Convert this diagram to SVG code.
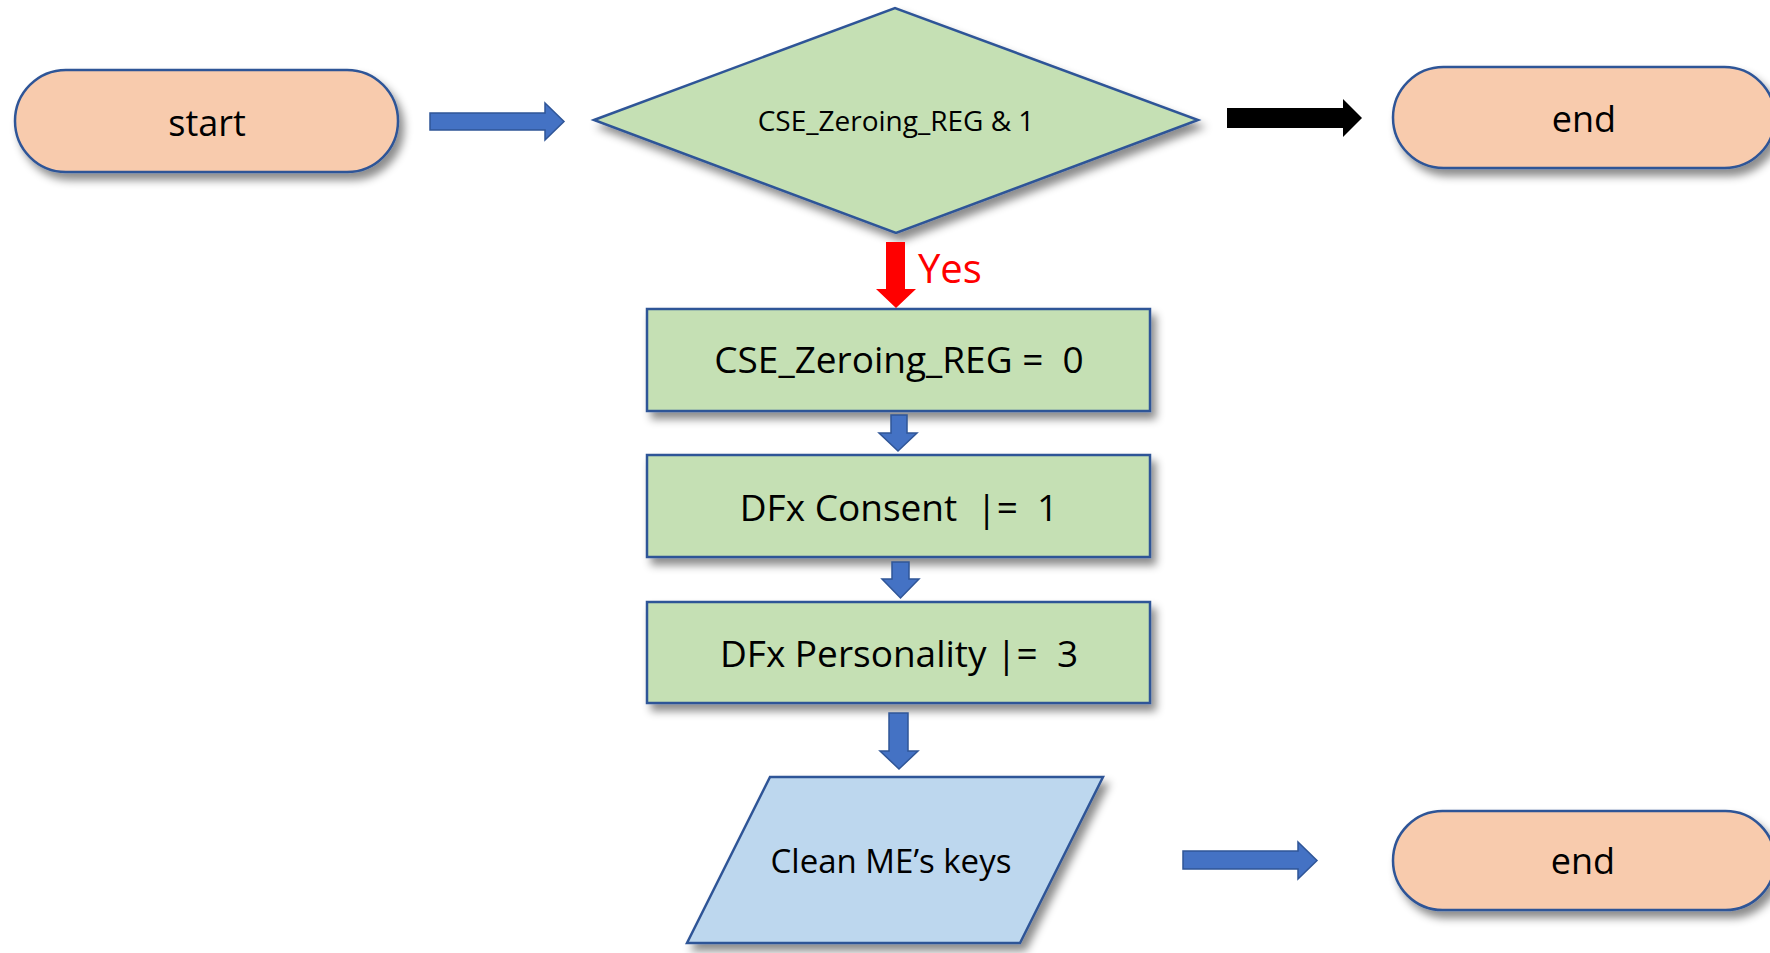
<svg xmlns="http://www.w3.org/2000/svg" width="1770" height="953" viewBox="0 0 1770 953">
<defs>
<filter id="sh" x="-10%" y="-10%" width="130%" height="140%">
<feDropShadow dx="5" dy="7" stdDeviation="4" flood-color="#000" flood-opacity="0.45"/>
</filter>
<style>
.term{fill:#F8CBAD;stroke:#2F5597;stroke-width:2.5;filter:url(#sh)}
.proc{fill:#C5E0B4;stroke:#2F5597;stroke-width:2.5;filter:url(#sh)}
.io{fill:#BDD7EE;stroke:#2F5597;stroke-width:2.5;filter:url(#sh)}
.txt{font-family:"Open Sans","Liberation Sans",sans-serif;fill:#000;text-anchor:middle;white-space:pre}
.barrow{fill:#4472C4;stroke:#2F5597;stroke-width:1.5}
.karrow{fill:#000}
.rarrow{fill:#FF0000}
</style>
</defs>
<rect width="1770" height="953" fill="#fff"/>
<g id="start">
<rect class="term" x="15" y="70" width="383" height="102" rx="51" ry="51"/>
<text class="txt" x="207" y="136" font-size="36">start</text>
</g>
<g id="decision">
<polygon class="proc" points="594,120 895,8 1198,120 896,233"/>
<text class="txt" x="896" y="131" font-size="28">CSE_Zeroing_REG &amp; 1</text>
</g>
<g id="end1">
<rect class="term" x="1393" y="67" width="382" height="101" rx="50.5" ry="50.5"/>
<text class="txt" x="1584" y="132" font-size="36">end</text>
</g>
<g id="step1">
<rect class="proc" x="647" y="309" width="503" height="102"/>
<text class="txt" x="899" y="373" font-size="37">CSE_Zeroing_REG =  0</text>
</g>
<g id="step2">
<rect class="proc" x="647" y="455" width="503" height="102"/>
<text class="txt" x="899" y="521" font-size="37">DFx Consent  |=  1</text>
</g>
<g id="step3">
<rect class="proc" x="647" y="602" width="503" height="101"/>
<text class="txt" x="899" y="667" font-size="37">DFx Personality |=  3</text>
</g>
<g id="clean">
<polygon class="io" points="770,777 1103,777 1020,943 687,943"/>
<text class="txt" x="891" y="873" font-size="33">Clean ME’s keys</text>
</g>
<g id="end2">
<rect class="term" x="1393" y="811" width="382" height="99" rx="49.5" ry="49.5"/>
<text class="txt" x="1583" y="874" font-size="36">end</text>
</g>
<g id="connectors">
<polygon class="barrow" points="430,113 545,113 545,103 564,121.5 545,140 545,130 430,130"/>
<polygon class="karrow" points="1227,108 1343,108 1343,99 1362,118 1343,137 1343,128 1227,128"/>
<polygon class="rarrow" points="886,242 905,242 905,289 916,289 896,308 876,289 886,289"/>
<text x="918" y="283" font-size="40" fill="#FF0000" font-family="Open Sans, Liberation Sans, sans-serif">Yes</text>
<polygon class="barrow" points="891,415 907,415 907,433 917,433 898,451 879,433 891,433"/>
<polygon class="barrow" points="892,562 909,562 909,579 919,579 900.5,598 882,579 892,579"/>
<polygon class="barrow" points="889,713 908,713 908,751 918,751 899,769 880,751 889,751"/>
<polygon class="barrow" points="1183,851 1298,851 1298,842 1317,860.5 1298,879 1298,869 1183,869"/>
</g>
</svg>
